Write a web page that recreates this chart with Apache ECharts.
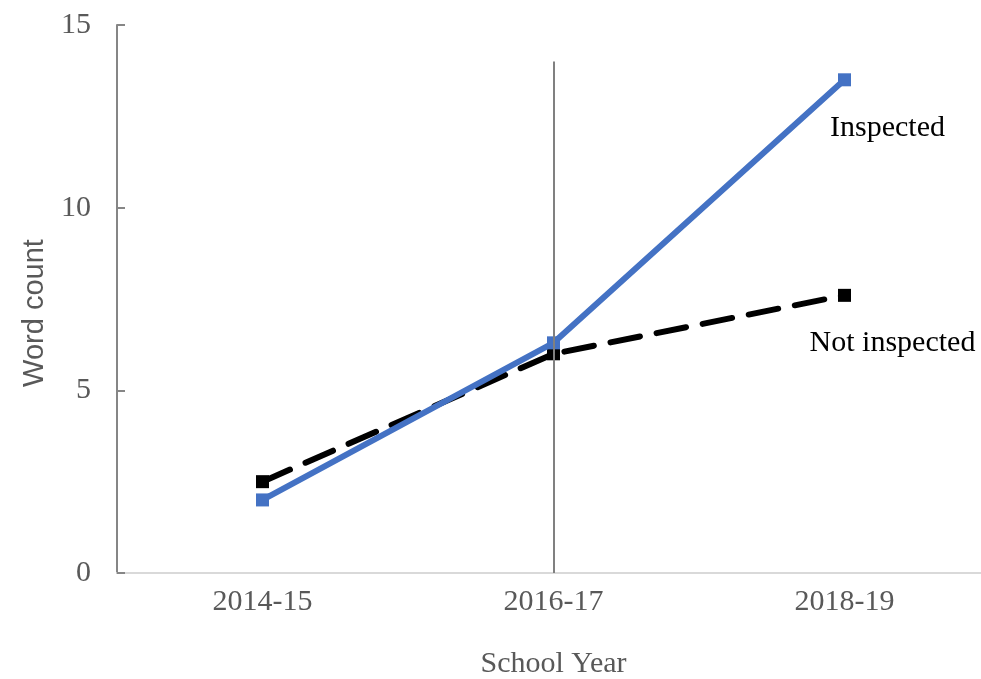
<!DOCTYPE html>
<html>
<head>
<meta charset="utf-8">
<script src="https://cdn.jsdelivr.net/npm/echarts@6/dist/echarts.min.js"></script>
<style>
  html, body { margin: 0; padding: 0; background: #fff; }
  #chart { width: 981px; height: 679px; }
</style>
</head>
<body>
<div id="chart"></div>
<script>
// data
const years = ['2014-15', '2016-17', '2018-19']
const inspected = [2.0, 6.3, 13.5]
const notInspected = [2.5, 6.0, 7.6]
const yTicks = [0, 5, 10, 15]
const cutoffYear = '2016-17'
const cutoffTop = 14

const serif = '"Liberation Serif", "Times New Roman", serif'
const grey = '#595959'

const chart = echarts.init(document.getElementById('chart'))

// put a text label on the last point of a series only
const withEndLabel = (values, text, offset) =>
  values.map((v, i) => i === values.length - 1
    ? {
        value: v,
        label: {
          show: true,
          formatter: text,
          position: 'bottom',
          offset: offset,
          fontFamily: serif,
          fontSize: 30,
          color: '#000',
        },
      }
    : v)

chart.setOption({
  animation: false,
  grid: { left: 117, right: -9, top: 25, bottom: 106, containLabel: false, outerBoundsMode: 'none' },
  xAxis: {
    type: 'category',
    data: years,
    boundaryGap: true,
    name: 'School Year',
    nameLocation: 'middle',
    nameGap: 76,
    nameTextStyle: { fontFamily: serif, fontSize: 30, color: grey },
    axisLine: { lineStyle: { color: '#d9d9d9', width: 2 } },
    axisTick: { alignWithLabel: true, inside: true, length: 6, lineStyle: { color: '#d9d9d9', width: 2 } },
    axisLabel: { fontFamily: serif, fontSize: 30, color: grey, margin: 14 },
    splitLine: { show: false },
  },
  yAxis: {
    type: 'value',
    min: yTicks[0],
    max: yTicks[yTicks.length - 1],
    interval: yTicks[1] - yTicks[0],
    name: 'Word count',
    nameLocation: 'middle',
    nameGap: 68,
    nameTextStyle: { fontFamily: '"Liberation Sans", Arial, sans-serif', fontSize: 29, color: grey, padding: [0, 28, 0, 0] },
    axisLine: { show: true, lineStyle: { color: '#868686', width: 2 } },
    axisTick: { show: true, inside: true, length: 8, lineStyle: { color: '#868686', width: 2 } },
    axisLabel: { fontFamily: serif, fontSize: 30, color: grey, margin: 26 },
    splitLine: { show: false },
  },
  series: [
    {
      name: 'Not inspected',
      type: 'line',
      data: withEndLabel(notInspected, 'Not inspected', [48, 21]),
      symbol: 'rect',
      symbolSize: 13,
      itemStyle: { color: '#000' },
      lineStyle: { color: '#000', width: 6, type: [30, 17], cap: 'round' },
      z: 2,
    },
    {
      name: 'Inspected',
      type: 'line',
      data: withEndLabel(inspected, 'Inspected', [43, 22]),
      symbol: 'rect',
      symbolSize: 13,
      itemStyle: { color: '#4472c4' },
      lineStyle: { color: '#4472c4', width: 6 },
      z: 3,
      markLine: {
        silent: true,
        symbol: 'none',
        label: { show: false },
        lineStyle: { color: '#808080', width: 2, type: 'solid' },
        data: [[{ coord: [cutoffYear, 0] }, { coord: [cutoffYear, cutoffTop] }]],
        z: 4,
      },
    },
  ],
})
</script>
</body>
</html>
